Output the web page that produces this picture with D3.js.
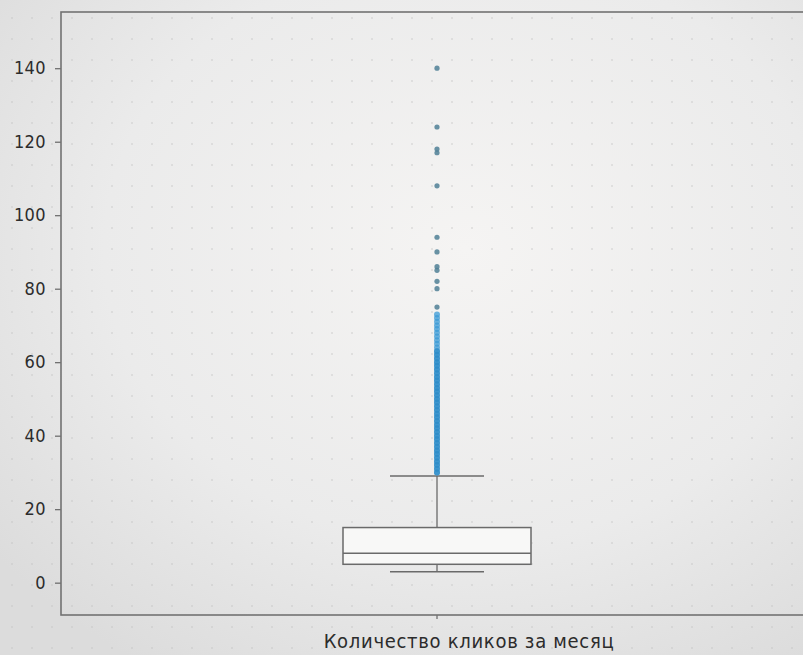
<!DOCTYPE html>
<html>
<head>
<meta charset="utf-8">
<script src="https://cdn.jsdelivr.net/npm/d3@7"></script>
<style>
  html, body { margin: 0; padding: 0; background: #e4e4e4; }
  svg { display: block; }
  .tick text { font-family: "DejaVu Sans Condensed", "DejaVu Sans", sans-serif; fill: #2c2c2c; }
</style>
</head>
<body>
<svg id="chart" width="803" height="655"></svg>
<script>
// values
const category = ['Количество кликов за месяц'];
const boxStats = { low: 3, q1: 5, median: 8, q3: 15, high: 29 };
const yTicks = [0, 20, 40, 60, 80, 100, 120, 140];
// outliers (clicks per month); the dense run is drawn twice where the picture is darkest
const outliersDense = [30, 31, 32, 33, 34, 35, 36, 37, 38, 39, 40, 41, 42, 43, 44, 45, 46, 47, 48, 49,
  50, 51, 52, 53, 54, 55, 56, 57, 58, 59, 60, 61, 62, 63];
const outliersThin = [30, 31, 32, 33, 34, 35, 36, 37, 38, 39, 40, 41, 42, 43, 44, 45, 46, 47, 48, 49,
  50, 51, 52, 53, 54, 55, 56, 57, 58, 59, 60, 61, 62, 63, 64, 65, 66, 67, 68, 69, 70, 71, 72, 73];
const outliersSparse = [75, 80, 82, 85, 86, 90, 94, 108, 117, 118, 124, 140];

const svg = d3.select('#chart');
const W = 803, H = 655;
const margin = { top: 12, right: -10, bottom: 40, left: 61 };

// photographed paper: soft vignette plus a faint dot grid
const defs = svg.append('defs');
const grad = defs.append('radialGradient').attr('id', 'paper')
  .attr('cx', 0.58).attr('cy', 0.38).attr('r', 0.75);
grad.append('stop').attr('offset', '0%').attr('stop-color', '#f5f4f3');
grad.append('stop').attr('offset', '60%').attr('stop-color', '#ebebeb');
grad.append('stop').attr('offset', '100%').attr('stop-color', '#dcdcdc');
const pat = defs.append('pattern').attr('id', 'dots')
  .attr('width', 20).attr('height', 21).attr('patternUnits', 'userSpaceOnUse')
  .attr('x', 2).attr('y', 8);
pat.append('circle').attr('cx', 10).attr('cy', 10).attr('r', 1).attr('fill', '#bdbdbd').attr('opacity', 0.45);

svg.append('rect').attr('width', W).attr('height', H).attr('fill', 'url(#paper)');
svg.append('rect').attr('width', W).attr('height', H).attr('fill', 'url(#dots)');

const x = d3.scaleBand().domain(category).range([margin.left, W - margin.right]);
const y = d3.scaleLinear().domain([-8.8, 155.3]).range([H - margin.bottom, margin.top]);

const cx = x(category[0]) + x.bandwidth() / 2;
const boxW = x.bandwidth() * 0.25;
const capW = boxW / 2;

// axes
svg.append('g')
  .attr('transform', `translate(${margin.left},0)`)
  .call(d3.axisLeft(y).tickValues(yTicks).tickSize(6).tickPadding(9))
  .call(g => g.select('.domain').remove())
  .call(g => g.selectAll('.tick line').attr('stroke', '#666').attr('stroke-width', 1.2))
  .call(g => g.selectAll('.tick text').attr('font-size', 18).attr('letter-spacing', 0.4));

// the photographed label sits a little right of its tick
svg.append('g')
  .attr('transform', `translate(0,${H - margin.bottom})`)
  .call(d3.axisBottom(x).tickSize(4).tickPadding(15))
  .call(g => g.select('.domain').remove())
  .call(g => g.selectAll('.tick line').attr('stroke', '#666').attr('stroke-width', 1.2))
  .call(g => g.selectAll('.tick text').attr('font-size', 20).attr('letter-spacing', 0.7).attr('dx', 32));

// frame (right edge falls outside the picture)
svg.append('rect')
  .attr('x', margin.left).attr('y', margin.top)
  .attr('width', W - margin.right - margin.left)
  .attr('height', H - margin.bottom - margin.top)
  .attr('fill', 'none').attr('stroke', '#727272').attr('stroke-width', 1.6);

// box
const lineCol = '#6a6a6a';
svg.append('line')
  .attr('x1', cx).attr('x2', cx).attr('y1', y(boxStats.q3)).attr('y2', y(boxStats.high))
  .attr('stroke', lineCol).attr('stroke-width', 1.3);
svg.append('line')
  .attr('x1', cx).attr('x2', cx).attr('y1', y(boxStats.q1)).attr('y2', y(boxStats.low))
  .attr('stroke', lineCol).attr('stroke-width', 1.3);
[boxStats.low, boxStats.high].forEach(v => {
  svg.append('line')
    .attr('x1', cx - capW / 2).attr('x2', cx + capW / 2).attr('y1', y(v)).attr('y2', y(v))
    .attr('stroke', lineCol).attr('stroke-width', 1.5);
});
svg.append('rect')
  .attr('x', cx - boxW / 2).attr('width', boxW)
  .attr('y', y(boxStats.q3)).attr('height', y(boxStats.q1) - y(boxStats.q3))
  .attr('fill', '#f8f8f7').attr('stroke', lineCol).attr('stroke-width', 1.5);
svg.append('line')
  .attr('x1', cx - boxW / 2).attr('x2', cx + boxW / 2)
  .attr('y1', y(boxStats.median)).attr('y2', y(boxStats.median))
  .attr('stroke', lineCol).attr('stroke-width', 1.5);

// outliers
const fl = svg.append('g');
const drawFliers = (vals, col, op, r) => {
  fl.selectAll(null).data(vals).enter().append('circle')
    .attr('cx', cx).attr('cy', d => y(d)).attr('r', r)
    .attr('fill', col).attr('fill-opacity', op);
};
drawFliers(outliersThin, '#3a9ad6', 0.75, 3);
drawFliers(outliersDense, '#2e8cc8', 0.7, 3);
drawFliers(outliersSparse, '#4f7f95', 0.85, 2.6);
</script>
</body>
</html>
